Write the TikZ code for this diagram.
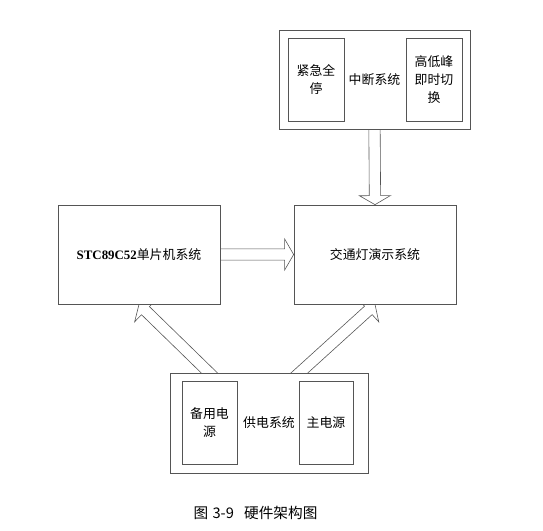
\documentclass[tikz,border=0pt]{standalone}
\usepackage{fontspec}
\setmainfont{Noto Sans CJK SC}
\newfontfamily\tnr{Liberation Serif}
\usetikzlibrary{calc}
\pgfdeclarelayer{background}
\pgfsetlayers{background,main}
\definecolor{linegray}{HTML}{555555}

% dutá bloková šipka z #1 do #2
\newcommand\hollowarrow[2]{%
    \coordinate (hb) at ($(#2)!0.27cm!(#1)$);
    \draw[hollow]
        ($(#1)!0.17cm!90:(#2)$) -- ($(hb)!0.17cm!90:(#2)$)
        -- ($(hb)!0.465cm!90:(#2)$) -- (#2)
        -- ($(hb)!0.465cm!-90:(#2)$) -- ($(hb)!0.17cm!-90:(#2)$)
        -- ($(#1)!0.17cm!-90:(#2)$);
}

\begin{document}
\begin{tikzpicture}[x=0.03cm, y=-0.03cm]

    \tikzset{
        box/.style={
            draw=linegray,
            fill=white,
            line width=0.6pt,
            inner sep=0pt,
            align=center,
            font=\fontsize{11}{15.5}\selectfont
        },
        hollow/.style={
            draw=linegray,
            line width=0.5pt,
            line join=miter
        }
    }

    \useasboundingbox (0,0) rectangle (543,530);

    % přerušovací systém
    \node[box, minimum width=5.73cm, minimum height=2.97cm] (intr) at (374.5,79.5) {中断系统};
    \node[box, minimum width=1.68cm, minimum height=2.49cm] (stop) at (316,79.5) {紧急全\\停};
    \node[box, minimum width=1.68cm, minimum height=2.49cm] (peak) at (434,79.5) {高低峰\\即时切\\换};

    % mikrokontrolér a semafory
    \node[box, minimum width=4.86cm, minimum height=2.97cm] (mcu) at (139,254.5) {{\tnr\bfseries STC89C52}单片机系统};
    \node[box, minimum width=4.86cm, minimum height=2.97cm] (light) at (375,254.5) {交通灯演示系统};

    % napájení
    \node[box, minimum width=5.94cm, minimum height=3cm] (power) at (269,423) {供电系统};
    \node[box, minimum width=1.65cm, minimum height=2.49cm] (backup) at (209.5,422.5) {备用电\\源};
    \node[box, minimum width=1.62cm, minimum height=2.49cm] (mainp) at (326,422.5) {主电源};

    % popisek
    \node[font=\fontsize{12.5}{15}\selectfont] (cap) at (255.5,513) {图\hspace{0.3em}3-9\hspace{0.7em}硬件架构图};

    % šipky
    \coordinate (pl) at ([xshift=-1.49cm, yshift=-0.3cm]power.north);
    \coordinate (pr) at ([xshift=0.59cm, yshift=-0.3cm]power.north);
    \begin{pgfonlayer}{background}
        \hollowarrow{intr.south}{light.north}
        \hollowarrow{mcu.east}{light.west}
        \hollowarrow{pl}{mcu.south}
        \hollowarrow{pr}{light.south}
    \end{pgfonlayer}

\end{tikzpicture}
\end{document}
